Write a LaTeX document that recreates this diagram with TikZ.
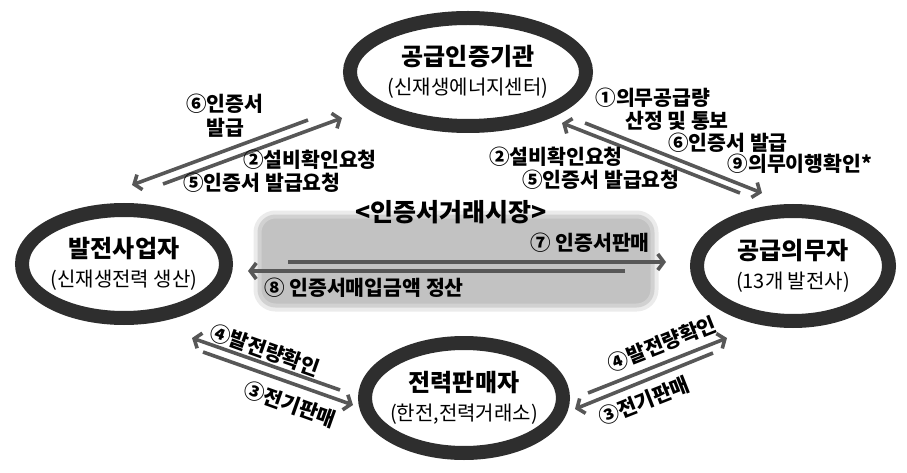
\documentclass[tikz,border=0pt]{standalone}
\usepackage{fontspec}
\setmainfont{Noto Sans CJK KR}
\usetikzlibrary{shapes.geometric,arrows.meta}
\pgfdeclareradialshading{ringglow}{\pgfpoint{0bp}{0bp}}{color(0bp)=(white); color(36bp)=(white); color(50bp)=(gray!45)}
\newcommand\orgsub[1]{{\mdseries\fontsize{20}{24}\selectfont #1}}

\begin{document}
\begin{tikzpicture}
  [x=1pt,y=-1pt,
   org/.style={ellipse,inner sep=-22pt,shade,shading=ringglow,draw=black!82,line width=14pt,
     align=center,font=\bfseries\fontsize{24}{29}\selectfont},
   flow/.style={draw=black!66,line width=3.6pt,-{Straight Barb[length=6pt,width=16pt]}},
   lbl/.style={font=\bfseries\fontsize{20.5}{24}\selectfont,align=center,inner sep=0pt}]
  \useasboundingbox (0,0) rectangle (907,473);

  % certificate market
  \node[fill=gray!48,draw=gray!36,line width=4pt,rounded corners=16pt,
        preaction={draw=gray!16,line width=12pt},
        minimum width=393pt,minimum height=89pt,inner sep=0pt] (market) at (456,261) {};
  \node[font=\bfseries\fontsize{25}{30}\selectfont] (mkttitle) at (451,212) {<인증서거래시장>};

  \node[org,minimum width=236pt,minimum height=108pt] (agency) at (468,72) {공급인증기관\\\orgsub{(신재생에너지센터)}};
  \node[org,minimum width=204pt,minimum height=108pt] (producer) at (124,264) {발전사업자\\\orgsub{(신재생전력 생산)}};
  \node[org,minimum width=192pt,minimum height=110pt] (supplier) at (793,266) {공급의무자\\\orgsub{(13개 발전사)}};
  \node[org,minimum width=198pt,minimum height=110pt] (seller) at (464,398) {전력판매자\\\orgsub{(한전,전력거래소)}};

  \coordinate (ag2pr0) at (308,120); \coordinate (ag2pr1) at (132,185);
  \coordinate (pr2ag0) at (163,184); \coordinate (pr2ag1) at (342,118);
  \coordinate (su2ag0) at (740,193); \coordinate (su2ag1) at (562,123);
  \coordinate (ag2su0) at (585,123); \coordinate (ag2su1) at (762,193);
  \coordinate (sell0) at (288,262);  \coordinate (sell1) at (666,262);
  \coordinate (pay0) at (625,271);   \coordinate (pay1) at (248,271);
  \coordinate (se2pr0) at (340,390); \coordinate (se2pr1) at (192,338);
  \coordinate (pr2se0) at (203,352); \coordinate (pr2se1) at (353,405);
  \coordinate (se2su0) at (588,393); \coordinate (se2su1) at (727,338);
  \coordinate (su2se0) at (713,353); \coordinate (su2se1) at (575,409);
  \foreach \a in {ag2pr,pr2ag,su2ag,ag2su,sell,pay,se2pr,pr2se,se2su,su2se}
    \draw[flow] (\a0) -- (\a1);

  \node[lbl] (t6l) at (225,116) {⑥인증서\\발급};
  \node[lbl] (t2l) at (310,160) {②설비확인요청};
  \node[lbl] (t5l) at (262,183) {⑤인증서 발급요청};
  \node[lbl] (t1r) at (653,98) {①의무공급량};
  \node[lbl] (t1rb) at (677,121) {산정 및 통보};
  \node[lbl] (t6r) at (728,143) {⑥인증서 발급};
  \node[lbl] (t9r) at (800,164) {⑨의무이행확인*};
  \node[lbl] (t2r) at (556,157) {②설비확인요청};
  \node[lbl] (t5r) at (601,180) {⑤인증서 발급요청};
  \node[lbl] (t7) at (590,243) {⑦ 인증서판매};
  \node[lbl] (t8) at (364,288) {⑧ 인증서매입금액 정산};
  \node[lbl,rotate=-19.6] (t4l) at (265,350) {④발전량확인};
  \node[lbl,rotate=-19.6] (t3l) at (290,404) {③전기판매};
  \node[lbl,rotate=21.6] (t4r) at (662,344) {④발전량확인};
  \node[lbl,rotate=21.6] (t3r) at (644,401) {③전기판매};
\end{tikzpicture}
\end{document}
